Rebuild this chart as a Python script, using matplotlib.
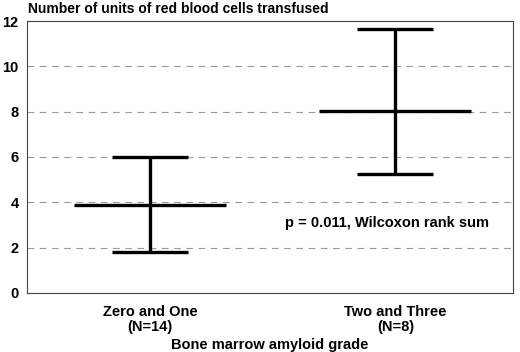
import matplotlib.pyplot as plt

plt.rcParams['font.family'] = ['Liberation Sans', 'DejaVu Sans']

groups = ["Zero and One\n(N=14)", "Two and Three\n(N=8)"]
means = [3.9, 8.05]
lows = [1.8, 5.25]
highs = [6.0, 11.65]
yticks = [0, 2, 4, 6, 8, 10, 12]

fig = plt.figure(figsize=(5.2, 3.52), dpi=100)
ax = fig.add_axes([0.052, 0.168, 0.935, 0.772])

pos = [1, 2]
for x, m, lo, hi in zip(pos, means, lows, highs):
    ax.plot([x, x], [lo, hi], color='black', lw=2.4, solid_capstyle='butt')
    ax.plot([x - 0.155, x + 0.155], [hi, hi], color='black', lw=2.4, solid_capstyle='butt')
    ax.plot([x - 0.155, x + 0.155], [lo, lo], color='black', lw=2.4, solid_capstyle='butt')
    ax.plot([x - 0.31, x + 0.31], [m, m], color='black', lw=2.4, solid_capstyle='butt')

for y in yticks[1:-1]:
    ax.axhline(y, color='#999999', lw=0.8, ls=(0, (6, 5)), zorder=0)

ax.set_xlim(0.5, 2.48)
ax.set_ylim(0, 12)
ax.set_yticks(yticks)
ax.set_yticklabels([str(v) for v in yticks], fontweight='bold', fontsize=10.5)
ax.set_xticks(pos)
ax.set_xticklabels(groups, fontweight='bold', fontsize=10.5, linespacing=1.05)
ax.tick_params(axis='y', length=0, pad=6)
ax.tick_params(axis='x', length=0, pad=9)
for s in ax.spines.values():
    s.set_color('#444444')
    s.set_linewidth(0.8)

ax.set_xlabel("Bone marrow amyloid grade", fontweight='bold', fontsize=10.5, labelpad=3)
ax.text(0.002, 1.02, "Number of units of red blood cells transfused", transform=ax.transAxes,
        ha='left', va='bottom', fontweight='bold', fontsize=10)
ax.text(1.55, 3.1, "p = 0.011, Wilcoxon rank sum", ha='left', va='center',
        fontweight='bold', fontsize=10.5)

fig.savefig("out.png", dpi=100)
